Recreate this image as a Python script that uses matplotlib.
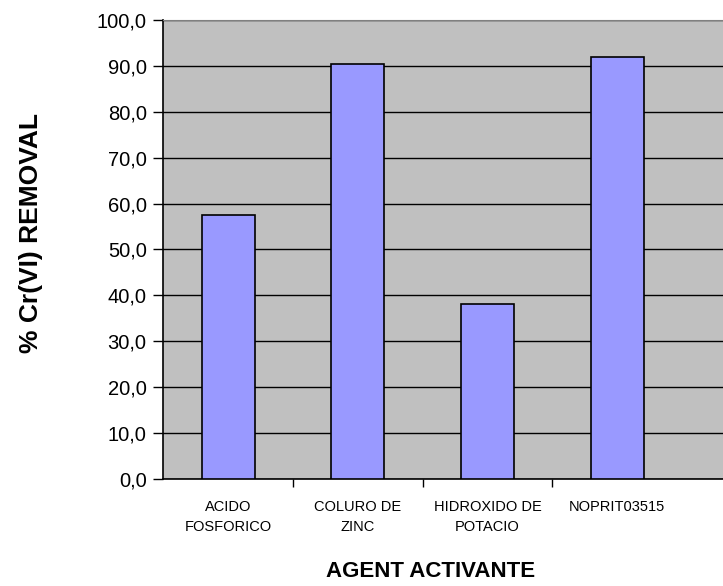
import numpy as np
import matplotlib.pyplot as plt
from matplotlib.ticker import FixedLocator, FuncFormatter

plt.rcParams['font.family'] = ['Liberation Sans', 'DejaVu Sans']

# % Cr(VI) removal per activating agent
agents = ['ACIDO\nFOSFORICO', 'COLURO DE\nZINC', 'HIDROXIDO DE\nPOTACIO', 'NOPRIT03515']
removal = [57.5, 90.4, 38.1, 91.9]

fig = plt.figure(figsize=(7.23, 5.86), dpi=100)
ax = fig.add_axes([0.2259, 0.1826, 0.7741, 0.7833])
ax.set_facecolor('#C0C0C0')

x = np.arange(len(agents))
ax.bar(x, removal, width=0.41, color='#9999FF', edgecolor='black', linewidth=1.2, zorder=3)

ax.set_ylim(0, 100)
ax.set_xlim(-0.5, 3.815)
ax.set_yticks(np.arange(0, 101, 10))
ax.yaxis.set_major_formatter(FuncFormatter(lambda v, p: f'{v:.1f}'.replace('.', ',')))
ax.grid(axis='y', color='black', linewidth=1.0, zorder=1)

ax.set_xticks(x)
ax.set_xticklabels(agents, fontsize=10.5, linespacing=1.6)
ax.xaxis.set_minor_locator(FixedLocator(x[:-1] + 0.5))
ax.tick_params(axis='x', which='major', length=0, pad=15)
ax.tick_params(axis='x', which='minor', length=6, width=1, color='black')
ax.tick_params(axis='y', length=7, width=1, labelsize=14.5, pad=5)

ax.spines['right'].set_visible(False)
ax.spines['top'].set_color('#808080')
ax.spines['left'].set_linewidth(1.2)
ax.spines['bottom'].set_linewidth(1.2)

fig.text(0.0425, 0.603, '% Cr(VI) REMOVAL', rotation=90, ha='center', va='center',
         fontsize=19, fontweight='bold')
fig.text(0.595, 0.024, 'AGENT ACTIVANTE', ha='center', va='center',
         fontsize=16, fontweight='bold')

fig.savefig('out.png', dpi=100)
